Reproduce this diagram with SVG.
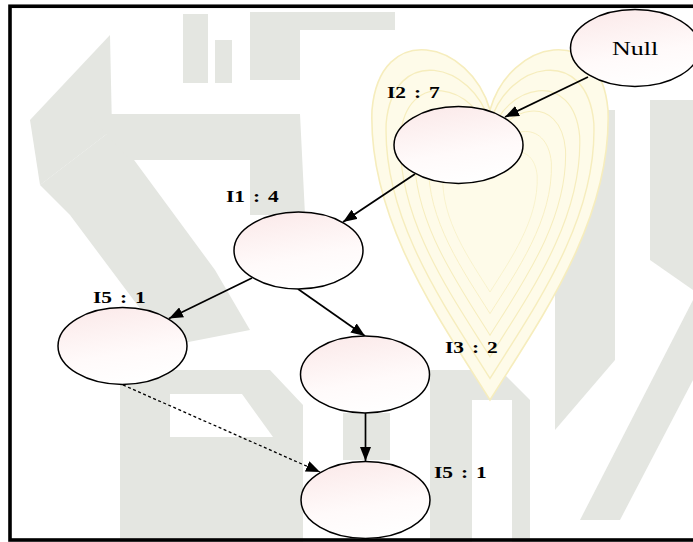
<svg xmlns="http://www.w3.org/2000/svg" width="693" height="542" viewBox="0 0 693 542">
  <defs>
    <linearGradient id="nodeFill" x1="0.3" y1="0" x2="0.6" y2="1">
      <stop offset="0" stop-color="#fbeaea"/>
      <stop offset="0.6" stop-color="#fffafa"/>
      <stop offset="1" stop-color="#ffffff"/>
    </linearGradient>
    <marker id="arrow" markerUnits="userSpaceOnUse" markerWidth="15" markerHeight="11" refX="14" refY="5.5" orient="auto">
      <path d="M0,0 L14,5.5 L0,11 z" fill="#000"/>
    </marker>
    <path id="heart" d="M490,110 C470,40 380,20 372,110 C368,220 440,320 490,400 C540,320 612,220 608,110 C600,20 510,40 490,110 Z"/>
  </defs>
  <style>
    .wm { fill: #e4e6e1; }
    .logo { fill: none; stroke: #f6edbd; stroke-width: 1.6; }
    .node { fill: url(#nodeFill); stroke: #000; stroke-width: 1.5; }
    .lbl { font-family: "Liberation Serif", "Times New Roman", serif; font-size: 16.5px; font-weight: bold; fill: #000; word-spacing: 2px; }
    .nm { font-family: "Liberation Serif", "Times New Roman", serif; font-size: 19px; fill: #000; }
    .edge { stroke: #000; stroke-width: 1.7; fill: none; }
    .dash { stroke: #000; stroke-width: 1.3; fill: none; stroke-dasharray: 3 2.5; }
  </style>
  <rect x="0" y="0" width="693" height="542" fill="#ffffff"/>
  <g id="watermark">
    <polygon class="wm" points="110,35 112,130 40,185 30,120"/>
    <polygon class="wm" points="40,185 112,130 215,270 250,330 168,346 70,215"/>
    <polygon class="wm" points="88,114 300,114 305,215 250,215 250,160 130,160"/>
    <polygon class="wm" points="183,14 208,14 208,83 183,83"/>
    <polygon class="wm" points="215,40 232,40 232,83 215,83"/>
    <polygon class="wm" points="250,12 395,12 395,30 300,30 300,80 250,80"/>
    <polygon class="wm" points="120,370 270,370 303,405 303,542 120,542"/>
    <polygon class="wm" points="343,413 390,413 390,460 343,460"/>
    <polygon class="wm" points="430,370 500,370 530,400 530,542 430,542"/>
    <polygon class="wm" points="555,110 615,110 615,360 555,430"/>
    <polygon class="wm" points="650,100 693,100 693,290 650,260"/>
    <polygon class="wm" points="693,300 693,380 620,520 580,520"/>
  </g>
  <rect x="170" y="394" width="72" height="43" fill="#ffffff"/>
  <polygon points="242,394 273,437 242,437" fill="#ffffff"/>
  <rect x="472" y="400" width="40" height="142" fill="#ffffff"/>
  <g id="logo">
    <use href="#heart" fill="#fefbe9"/>
    <use href="#heart" class="logo"/>
    <use href="#heart" class="logo" transform="translate(490,220) scale(0.88) translate(-490,-220)"/>
    <use href="#heart" class="logo" transform="translate(490,220) scale(0.76) translate(-490,-220)"/>
    <use href="#heart" class="logo" transform="translate(490,220) scale(0.64) translate(-490,-220)"/>
    <use href="#heart" class="logo" transform="translate(490,220) scale(0.52) translate(-490,-220)"/>
    <use href="#heart" class="logo" transform="translate(490,220) scale(0.40) translate(-490,-220)"/>
  </g>
  <rect x="10" y="6.25" width="700" height="533.75" fill="none" stroke="#000" stroke-width="3.6"/>
  <g id="connectors">
    <line class="edge" x1="588" y1="77" x2="505" y2="117" marker-end="url(#arrow)"/>
    <line class="edge" x1="415" y1="174" x2="343" y2="222" marker-end="url(#arrow)"/>
    <line class="edge" x1="252" y1="278" x2="169" y2="318.5" marker-end="url(#arrow)"/>
    <line class="edge" x1="298" y1="289" x2="365" y2="336" marker-end="url(#arrow)"/>
    <line class="edge" x1="365.5" y1="413" x2="365.5" y2="461" marker-end="url(#arrow)"/>
    <line class="dash" x1="123" y1="385" x2="320" y2="472" marker-end="url(#arrow)"/>
  </g>
  <g id="node-null">
    <ellipse class="node" cx="635" cy="48" rx="64.5" ry="38.5"/>
    <text class="nm" transform="translate(635,55) scale(1.37,1)" text-anchor="middle">Null</text>
  </g>
  <g id="node-i2">
    <ellipse class="node" cx="458.5" cy="145" rx="64.5" ry="38.5"/>
    <text class="lbl" transform="translate(387,98) scale(1.3,1)">I2 : 7</text>
  </g>
  <g id="node-i1">
    <ellipse class="node" cx="298.5" cy="250.5" rx="64.5" ry="38.5"/>
    <text class="lbl" transform="translate(226,202) scale(1.3,1)">I1 : 4</text>
  </g>
  <g id="node-i5a">
    <ellipse class="node" cx="122.5" cy="346" rx="64.5" ry="38.5"/>
    <text class="lbl" transform="translate(93,303) scale(1.3,1)">I5 : 1</text>
  </g>
  <g id="node-i3">
    <ellipse class="node" cx="365" cy="374.5" rx="64.5" ry="38.5"/>
    <text class="lbl" transform="translate(445,353) scale(1.3,1)">I3 : 2</text>
  </g>
  <g id="node-i5b">
    <ellipse class="node" cx="365.5" cy="500" rx="64.5" ry="38.5"/>
    <text class="lbl" transform="translate(434,478) scale(1.3,1)">I5 : 1</text>
  </g>
</svg>
